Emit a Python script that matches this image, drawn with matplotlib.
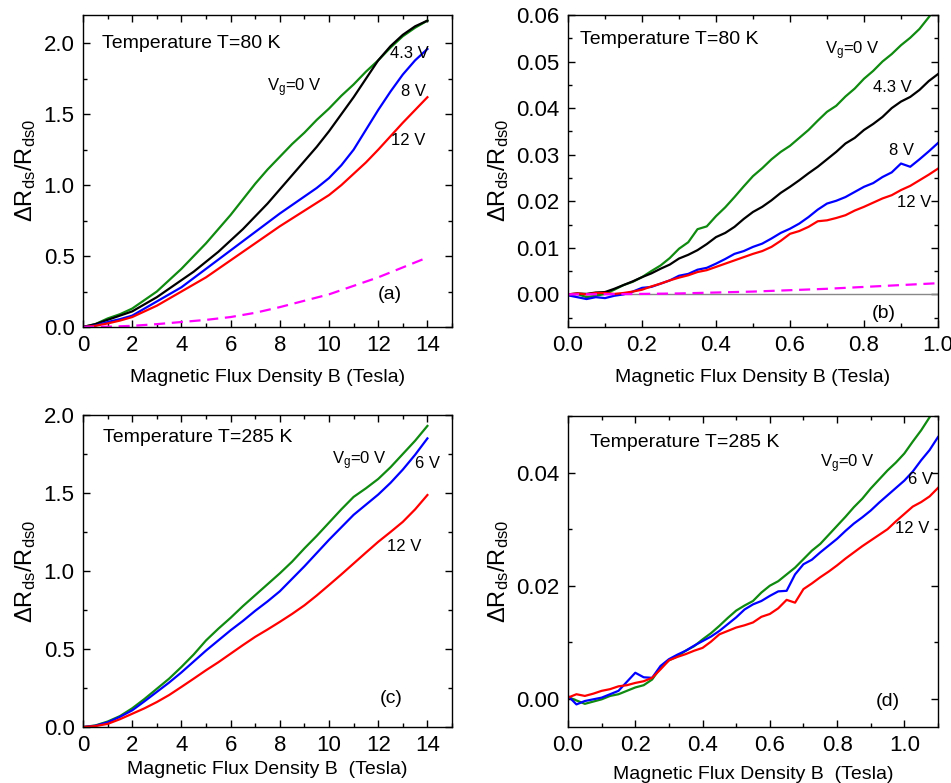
import numpy as np
import matplotlib
matplotlib.use("Agg")
import matplotlib.pyplot as plt
from matplotlib.ticker import MultipleLocator, FormatStrFormatter

plt.rcParams['font.family'] = ['Liberation Sans', 'DejaVu Sans']
plt.rcParams['mathtext.fontset'] = 'custom'
plt.rcParams['mathtext.rm'] = 'Liberation Sans'
plt.rcParams['mathtext.it'] = 'Liberation Sans:italic'

GREEN = '#108a10'
BLACK = 'black'
BLUE = '#0000ff'
RED = '#ff0000'
MAGENTA = '#ff00ff'

# ---- panel (a): T = 80 K, full field range ----
B_a = np.arange(0, 14.01, 0.5)
a_0V = [0, 0.02, 0.06, 0.09, 0.13, 0.19, 0.25, 0.33, 0.41, 0.50, 0.59, 0.69, 0.79, 0.90, 1.01,
        1.11, 1.20, 1.29, 1.37, 1.46, 1.54, 1.63, 1.71, 1.80, 1.88, 1.97, 2.05, 2.11, 2.16]
a_43V = [0, 0.02, 0.05, 0.08, 0.11, 0.16, 0.21, 0.27, 0.33, 0.39, 0.46, 0.53, 0.61, 0.69, 0.78,
         0.87, 0.97, 1.07, 1.17, 1.27, 1.38, 1.50, 1.62, 1.75, 1.88, 1.98, 2.06, 2.12, 2.16]
a_8V = [0, 0.01, 0.035, 0.055, 0.08, 0.13, 0.18, 0.23, 0.28, 0.345, 0.41, 0.475, 0.54, 0.605, 0.67,
        0.735, 0.80, 0.86, 0.92, 0.98, 1.05, 1.14, 1.25, 1.39, 1.53, 1.66, 1.78, 1.88, 1.96]
a_12V = [0, 0.008, 0.025, 0.045, 0.07, 0.11, 0.15, 0.20, 0.25, 0.30, 0.35, 0.41, 0.47, 0.53, 0.59,
         0.65, 0.71, 0.765, 0.82, 0.875, 0.93, 1.00, 1.08, 1.16, 1.25, 1.345, 1.44, 1.53, 1.62]
B_a_dash = np.arange(0, 15, 1)
a_dash = [0, 0.002, 0.008, 0.02, 0.035, 0.05, 0.07, 0.10, 0.14, 0.185, 0.23, 0.29, 0.35, 0.42, 0.49]

# ---- panel (b): T = 80 K, low field ----
B_b = np.linspace(0, 1.0, 41)
b_0V = [-0.0002, 0.0001, -0.0006, -0.0003, 0.0001, 0.0010, 0.0020, 0.0027, 0.0037, 0.0050,
        0.0062, 0.0078, 0.0098, 0.0112, 0.0140, 0.0146, 0.0168, 0.0187, 0.0209, 0.0232,
        0.0254, 0.0271, 0.0290, 0.0306, 0.0319, 0.0336, 0.0353, 0.0373, 0.0392, 0.0405,
        0.0425, 0.0442, 0.0463, 0.0480, 0.0500, 0.0516, 0.0535, 0.0551, 0.0570, 0.0595, 0.0620]
b_43V = [0.0000, 0.0002, 0.0001, 0.0004, 0.0005, 0.0012, 0.0020, 0.0028, 0.0037, 0.0045,
         0.0055, 0.0064, 0.0077, 0.0085, 0.0095, 0.0108, 0.0123, 0.0132, 0.0145, 0.0162,
         0.0177, 0.0188, 0.0202, 0.0218, 0.0231, 0.0245, 0.0260, 0.0274, 0.0290, 0.0306,
         0.0324, 0.0336, 0.0353, 0.0366, 0.0381, 0.0400, 0.0414, 0.0424, 0.0439, 0.0458, 0.0473]
b_8V = [-0.0002, -0.0006, -0.0010, -0.0006, -0.0008, -0.0003, 0.0000, 0.0006, 0.0014, 0.0016,
        0.0023, 0.0030, 0.0040, 0.0044, 0.0053, 0.0057, 0.0066, 0.0076, 0.0087, 0.0093,
        0.0102, 0.0109, 0.0120, 0.0132, 0.0141, 0.0152, 0.0166, 0.0182, 0.0195, 0.0201,
        0.0209, 0.0220, 0.0231, 0.0239, 0.0252, 0.0262, 0.0281, 0.0274, 0.0290, 0.0307, 0.0325]
b_12V = [0.0000, 0.0002, 0.0000, 0.0003, 0.0003, 0.0001, 0.0003, 0.0006, 0.0010, 0.0017,
         0.0023, 0.0030, 0.0036, 0.0041, 0.0048, 0.0052, 0.0059, 0.0066, 0.0073, 0.0080,
         0.0087, 0.0093, 0.0102, 0.0115, 0.0130, 0.0136, 0.0145, 0.0157, 0.0159, 0.0164,
         0.0170, 0.0180, 0.0188, 0.0197, 0.0206, 0.0213, 0.0224, 0.0233, 0.0245, 0.0257, 0.0270]
B_b_dash = np.linspace(0, 1.0, 11)
b_dash = [0, 0.00003, 0.0001, 0.0002, 0.0004, 0.0006, 0.0009, 0.0012, 0.0016, 0.0020, 0.0024]

# ---- panel (c): T = 285 K, full field range ----
B_c = np.arange(0, 14.01, 0.5)
c_0V = [0, 0.01, 0.035, 0.07, 0.12, 0.18, 0.245, 0.31, 0.385, 0.465, 0.555, 0.63, 0.70, 0.775, 0.845,
        0.915, 0.985, 1.06, 1.145, 1.225, 1.31, 1.395, 1.475, 1.53, 1.59, 1.665, 1.75, 1.835, 1.93]
c_6V = [0, 0.008, 0.03, 0.065, 0.107, 0.165, 0.225, 0.285, 0.35, 0.42, 0.49, 0.555, 0.62, 0.68, 0.745,
        0.805, 0.87, 0.95, 1.03, 1.115, 1.20, 1.28, 1.36, 1.425, 1.49, 1.565, 1.65, 1.745, 1.85]
c_12V = [0, 0.006, 0.02, 0.05, 0.085, 0.12, 0.16, 0.205, 0.257, 0.31, 0.364, 0.415, 0.47, 0.525, 0.578,
         0.625, 0.674, 0.725, 0.78, 0.843, 0.91, 0.978, 1.048, 1.118, 1.187, 1.25, 1.315, 1.395, 1.487]

# ---- panel (d): T = 285 K, low field ----
B_d = np.linspace(0, 1.1, 45)
d_0V = [0.0003, -0.0003, -0.0009, -0.0005, -0.0001, 0.0005, 0.0008, 0.0014, 0.0020, 0.0024,
        0.0034, 0.0055, 0.0068, 0.0075, 0.0085, 0.0093, 0.0105, 0.0116, 0.0129, 0.0143,
        0.0156, 0.0165, 0.0173, 0.0188, 0.0200, 0.0208, 0.0220, 0.0232, 0.0247, 0.0262,
        0.0274, 0.0290, 0.0306, 0.0322, 0.0339, 0.0354, 0.0372, 0.0388, 0.0404, 0.0418,
        0.0434, 0.0455, 0.0475, 0.0498, 0.0520]
d_6V = [0.0005, -0.0010, -0.0004, -0.0001, 0.0002, 0.0008, 0.0014, 0.0030, 0.0046, 0.0038,
        0.0037, 0.0058, 0.0070, 0.0078, 0.0085, 0.0094, 0.0102, 0.0110, 0.0120, 0.0132,
        0.0144, 0.0158, 0.0167, 0.0173, 0.0182, 0.0190, 0.0191, 0.0220, 0.0238, 0.0246,
        0.0259, 0.0271, 0.0283, 0.0297, 0.0310, 0.0321, 0.0333, 0.0347, 0.0360, 0.0373,
        0.0386, 0.0402, 0.0422, 0.0440, 0.0463]
d_12V = [0.0002, 0.0008, 0.0005, 0.0009, 0.0014, 0.0017, 0.0022, 0.0024, 0.0028, 0.0031,
         0.0037, 0.0052, 0.0068, 0.0074, 0.0079, 0.0085, 0.0090, 0.0101, 0.0114, 0.0120,
         0.0126, 0.0130, 0.0135, 0.0145, 0.0150, 0.0160, 0.0175, 0.0170, 0.0194, 0.0204,
         0.0215, 0.0225, 0.0236, 0.0248, 0.0259, 0.0270, 0.0280, 0.0290, 0.0300, 0.0314,
         0.0327, 0.0340, 0.0348, 0.0358, 0.0373]

YLABEL = 'ΔR$_{\\rm ds}$/R$_{\\rm ds0}$'
VG0 = 'V$_{\\rm g}$=0 V'
LBL = 12


def style(ax, xmaj, xmin, ymaj, ymin, xfmt, yfmt):
    ax.xaxis.set_major_locator(MultipleLocator(xmaj))
    ax.xaxis.set_minor_locator(MultipleLocator(xmin))
    ax.yaxis.set_major_locator(MultipleLocator(ymaj))
    ax.yaxis.set_minor_locator(MultipleLocator(ymin))
    ax.xaxis.set_major_formatter(FormatStrFormatter(xfmt))
    ax.yaxis.set_major_formatter(FormatStrFormatter(yfmt))
    ax.tick_params(which='both', direction='in', top=True, right=True, width=1)
    ax.tick_params(which='major', length=5, labelsize=16, pad=6)
    ax.tick_params(which='minor', length=3)
    for s in ax.spines.values():
        s.set_linewidth(1.0)
    ax.set_ylabel(YLABEL, fontsize=17, labelpad=4)


fig = plt.figure(figsize=(9.51, 7.83), dpi=100)
lw = 1.6

# (a)
ax = fig.add_axes([0.0873, 0.5824, 0.388, 0.3985])
ax.plot(B_a, a_0V, color=GREEN, lw=lw)
ax.plot(B_a, a_43V, color=BLACK, lw=lw)
ax.plot(B_a, a_8V, color=BLUE, lw=lw)
ax.plot(B_a, a_12V, color=RED, lw=lw)
ax.plot(B_a_dash, a_dash, color=MAGENTA, lw=lw, ls=(0, (5, 3)))
ax.set_xlim(0, 15)
ax.set_ylim(0, 2.2)
style(ax, 2, 1, 0.5, 0.25, '%d', '%.1f')
ax.set_xlabel('Magnetic Flux Density B (Tesla)', fontsize=14, labelpad=9)
ax.text(0.051, 0.91, 'Temperature T=80 K', transform=ax.transAxes, fontsize=14, va='center')
ax.text(0.499, 0.766, VG0, transform=ax.transAxes, fontsize=LBL, va='center')
ax.text(0.832, 0.877, '4.3 V', transform=ax.transAxes, fontsize=LBL, va='center')
ax.text(0.863, 0.754, '8 V', transform=ax.transAxes, fontsize=LBL, va='center')
ax.text(0.836, 0.599, '12 V', transform=ax.transAxes, fontsize=LBL, va='center')
ax.text(0.80, 0.103, '(a)', transform=ax.transAxes, fontsize=14, va='center')

# (b)
ax = fig.add_axes([0.5973, 0.5824, 0.389, 0.3985])
ax.axhline(0, color='#888888', lw=1)
ax.plot(B_b, b_0V, color=GREEN, lw=lw)
ax.plot(B_b, b_43V, color=BLACK, lw=lw)
ax.plot(B_b, b_8V, color=BLUE, lw=lw)
ax.plot(B_b, b_12V, color=RED, lw=lw)
ax.plot(B_b_dash, b_dash, color=MAGENTA, lw=lw, ls=(0, (5, 3)))
ax.set_xlim(0, 1.0)
ax.set_ylim(-0.007, 0.06)
style(ax, 0.2, 0.1, 0.01, 0.005, '%.1f', '%.2f')
ax.set_xlabel('Magnetic Flux Density B (Tesla)', fontsize=14, labelpad=9)
ax.text(0.032, 0.92, 'Temperature T=80 K', transform=ax.transAxes, fontsize=14, va='center')
ax.text(0.695, 0.885, VG0, transform=ax.transAxes, fontsize=LBL, va='center')
ax.text(0.824, 0.768, '4.3 V', transform=ax.transAxes, fontsize=LBL, va='center')
ax.text(0.868, 0.567, '8 V', transform=ax.transAxes, fontsize=LBL, va='center')
ax.text(0.888, 0.40, '12 V', transform=ax.transAxes, fontsize=LBL, va='center')
ax.text(0.82, 0.044, '(b)', transform=ax.transAxes, fontsize=14, va='center')

# (c)
ax = fig.add_axes([0.0873, 0.0715, 0.388, 0.3985])
ax.plot(B_c, c_0V, color=GREEN, lw=lw)
ax.plot(B_c, c_6V, color=BLUE, lw=lw)
ax.plot(B_c, c_12V, color=RED, lw=lw)
ax.set_xlim(0, 15)
ax.set_ylim(0, 2.0)
style(ax, 2, 1, 0.5, 0.25, '%d', '%.1f')
ax.set_xlabel('Magnetic Flux Density B  (Tesla)', fontsize=14, labelpad=3)
ax.text(0.054, 0.928, 'Temperature T=285 K', transform=ax.transAxes, fontsize=14, va='center')
ax.text(0.674, 0.855, VG0, transform=ax.transAxes, fontsize=LBL, va='center')
ax.text(0.90, 0.843, '6 V', transform=ax.transAxes, fontsize=LBL, va='center')
ax.text(0.823, 0.578, '12 V', transform=ax.transAxes, fontsize=LBL, va='center')
ax.text(0.805, 0.092, '(c)', transform=ax.transAxes, fontsize=14, va='center')

# (d)
ax = fig.add_axes([0.5973, 0.0715, 0.389, 0.397])
ax.plot(B_d, d_0V, color=GREEN, lw=lw)
ax.plot(B_d, d_6V, color=BLUE, lw=lw)
ax.plot(B_d, d_12V, color=RED, lw=lw)
ax.set_xlim(0, 1.1)
ax.set_ylim(-0.005, 0.05)
style(ax, 0.2, 0.1, 0.02, 0.01, '%.1f', '%.2f')
ax.set_xlabel('Magnetic Flux Density B  (Tesla)', fontsize=14, labelpad=7)
ax.text(0.059, 0.914, 'Temperature T=285 K', transform=ax.transAxes, fontsize=14, va='center')
ax.text(0.681, 0.847, VG0, transform=ax.transAxes, fontsize=LBL, va='center')
ax.text(0.918, 0.797, '6 V', transform=ax.transAxes, fontsize=LBL, va='center')
ax.text(0.883, 0.639, '12 V', transform=ax.transAxes, fontsize=LBL, va='center')
ax.text(0.832, 0.081, '(d)', transform=ax.transAxes, fontsize=14, va='center')

fig.savefig('out.png', dpi=100)
